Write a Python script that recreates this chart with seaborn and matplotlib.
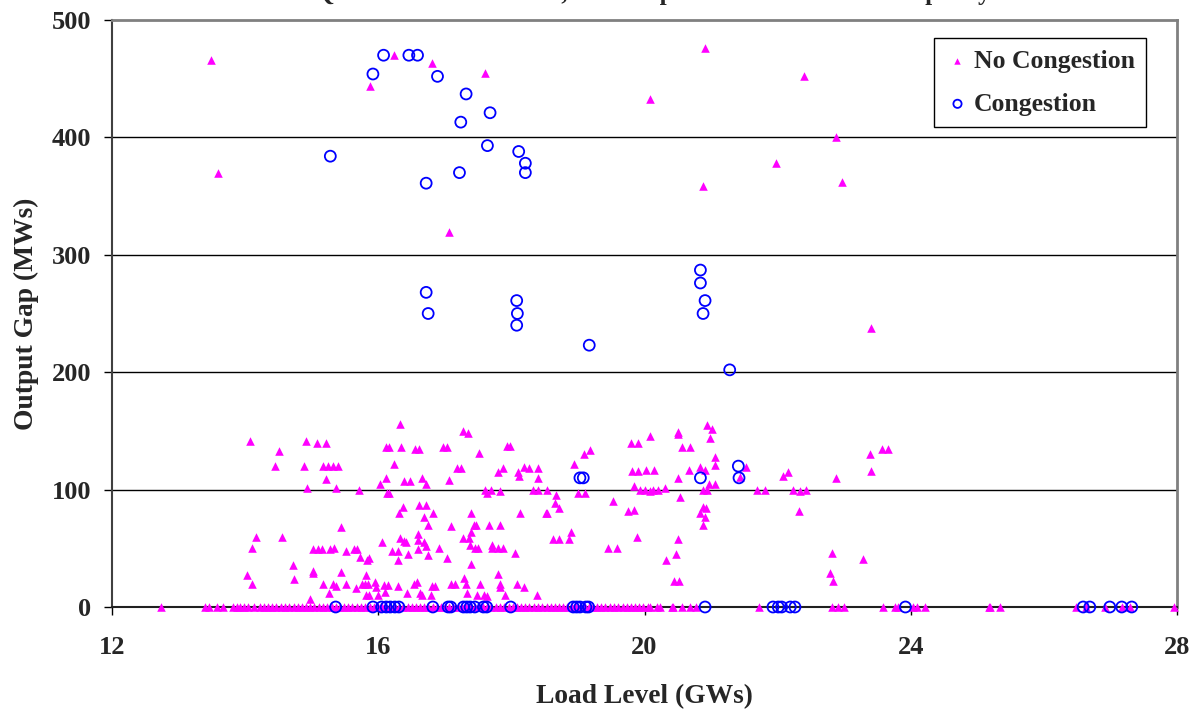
import matplotlib
matplotlib.use("Agg")
import matplotlib.pyplot as plt
import seaborn as sns

# ---------------- data ----------------
title_text = "Quota Withheld Levels, With Top Level vs. Total Max Capacity"
x_label = "Load Level (GWs)"
y_label = "Output Gap (MWs)"
x_ticks = [12, 16, 20, 24, 28]
y_ticks = [0, 100, 200, 300, 400, 500]
series_names = ["No Congestion", "Congestion"]

# No Congestion (triangles) - points above zero
nc_load = [13.48, 13.59, 15.87, 16.23, 16.81, 17.61, 17.07, 20.91, 20.09, 22.40, 22.87, 21.98, 20.88, 22.97, 23.40,
           14.08, 14.51, 14.45, 14.92, 15.08, 15.21, 14.89, 15.17, 15.25, 15.32, 15.40, 15.21, 14.93, 15.36, 15.71,
           15.44, 14.16, 14.55, 14.10, 15.02, 15.09, 15.16, 15.28, 15.33, 15.52, 15.64, 15.68, 15.72, 15.86, 15.83,
           14.72, 15.02, 15.02, 15.44, 14.03, 14.10, 14.73, 15.17, 15.32, 15.36, 15.52, 15.66, 15.75, 15.80, 15.84,
           15.82, 15.95, 15.97, 15.26, 14.98, 15.82, 15.86, 16.00,
           16.32, 17.28, 17.35, 16.12, 16.16, 16.34, 16.55, 16.61, 16.98, 17.03, 17.52, 17.93, 17.98, 16.23, 16.12,
           16.03, 16.39, 16.47, 16.66, 16.71, 17.07, 17.19, 17.25, 17.80, 17.88, 18.10, 18.12, 18.19, 18.27, 18.40,
           18.40, 16.13, 16.16, 17.60, 17.69, 17.64, 17.83, 18.33, 18.40, 18.54, 18.67, 18.66, 18.72, 18.94, 19.09,
           19.18, 19.00, 19.10, 19.79, 19.90, 19.81, 19.90, 20.02, 19.84, 19.93, 20.01, 20.08, 19.53, 19.75, 19.84,
           19.89, 18.13, 18.52, 18.54, 17.40, 16.37, 16.31, 16.61, 16.72, 16.68, 16.83, 16.74, 17.09, 17.44, 17.47,
           17.66, 17.83, 17.40, 17.27, 17.37, 17.38, 17.45, 17.50, 17.71, 17.71, 17.80, 17.88, 18.05, 18.63, 18.71,
           18.86, 18.90, 19.45, 19.59, 16.05, 16.20, 16.30, 16.33, 16.38, 16.42, 16.44, 16.29, 16.59, 16.59, 16.59,
           16.68, 16.71, 16.75, 16.92, 17.03, 17.40, 17.80, 16.08, 16.14, 16.10, 16.30, 16.43, 16.53, 16.58, 16.63,
           16.65, 16.80, 16.86, 16.79, 17.10, 17.15, 17.29, 17.32, 17.34, 17.53, 17.49, 17.59, 17.64, 17.83, 17.83,
           17.90, 18.09, 18.19, 18.39,
           20.08, 20.50, 20.51, 20.94, 21.02, 20.99, 20.57, 20.68, 20.15, 20.50, 20.67, 20.84, 20.91, 21.06, 21.06,
           20.97, 21.06, 21.53, 21.43, 20.13, 20.21, 20.31, 20.53, 20.88, 20.94, 20.88, 20.92, 20.83, 20.91, 20.88,
           21.69, 21.81, 22.08, 22.15, 22.23, 22.34, 22.42, 22.32, 22.88, 23.39, 23.40, 23.57, 23.66, 20.50, 20.48,
           20.32, 20.44, 20.52, 22.82, 22.79, 22.83, 23.29]
nc_gap = [466, 370, 444, 470, 463, 455, 319, 476, 433, 452, 400, 378, 359, 362, 238,
          141, 133, 120, 141, 140, 140, 120, 120, 120, 120, 120, 109, 101, 101, 100,
          68, 60, 60, 50, 49, 49, 49, 49, 50, 48, 49, 49, 43, 42, 40,
          36, 31, 29, 30, 27, 20, 24, 20, 20, 18, 20, 16, 20, 20, 20,
          27, 21, 17, 12, 7, 10, 10, 10,
          156, 150, 148, 136, 136, 136, 135, 135, 136, 136, 131, 137, 137, 122, 110,
          105, 107, 107, 110, 105, 108, 118, 118, 115, 118, 115, 112, 119, 118, 118,
          110, 97, 97, 100, 100, 97, 99, 100, 100, 100, 95, 89, 84, 122, 130,
          134, 97, 97, 140, 140, 116, 116, 117, 103, 100, 100, 99, 90, 82, 83,
          60, 80, 80, 80, 80, 85, 80, 87, 87, 77, 80, 70, 69, 70, 70,
          70, 70, 64, 59, 59, 53, 50, 50, 53, 50, 50, 50, 46, 58, 58,
          58, 64, 50, 50, 55, 48, 48, 59, 56, 55, 45, 40, 62, 57, 49,
          55, 52, 44, 50, 42, 37, 28, 19, 19, 13, 18, 12, 20, 21, 12,
          10, 18, 18, 10, 20, 20, 25, 20, 12, 20, 10, 10, 9, 20, 17,
          10, 20, 17, 10,
          146, 149, 147, 155, 152, 144, 136, 136, 117, 110, 117, 119, 117, 128, 121,
          105, 105, 119, 111, 100, 100, 101, 94, 100, 100, 85, 84, 80, 77, 70,
          100, 100, 112, 115, 100, 99, 100, 82, 110, 130, 116, 135, 135, 58, 45,
          40, 22, 22, 46, 29, 22, 41]

# No Congestion (triangles) - points sitting on zero
nc_zero_load = [12.74, 13.40, 13.45, 13.58, 13.67, 13.82, 13.88, 13.93, 13.98, 14.04, 14.13,
                14.22, 14.28, 14.35, 14.41, 14.47, 14.54, 14.60, 14.66, 14.73, 14.79, 14.85, 14.92, 14.98,
                15.04, 15.11, 15.17, 15.23, 15.30, 15.36, 15.42, 15.49, 15.55, 15.61, 15.68, 15.74, 15.80,
                15.87, 15.93, 15.99, 16.06, 16.12, 16.18, 16.25, 16.31, 16.37, 16.44, 16.50, 16.56, 16.63,
                16.69, 16.75, 16.82, 16.88, 16.94, 17.01, 17.07, 17.13, 17.20, 17.26, 17.32, 17.39, 17.45,
                17.51, 17.58, 17.64, 17.70, 17.77, 17.83, 17.89, 17.96, 18.02, 18.08, 18.15, 18.21, 18.27,
                18.34, 18.40, 18.46, 18.53, 18.59, 18.65, 18.72, 18.78, 18.84, 18.91, 18.97, 19.03, 19.10,
                19.16, 19.22, 19.29, 19.35, 19.41, 19.48, 19.54, 19.60, 19.67, 19.73, 19.79, 19.86, 19.92,
                19.98, 20.05, 20.08,
                20.19, 20.23, 20.41, 20.43, 20.57, 20.69, 20.78, 21.72, 22.81, 22.91, 22.99, 23.59, 23.76,
                23.81, 24.04, 24.09, 24.22, 25.17, 25.19, 25.34, 26.49, 26.64, 26.92, 27.17, 27.29, 27.95]
nc_zero_gap = [0] * len(nc_zero_load)

# Congestion (open circles)
c_load = [16.08, 15.92, 16.46, 16.59, 16.89, 17.32, 17.68, 17.24, 17.64, 15.28, 17.22, 16.72, 16.72, 16.75,
          18.11, 18.21, 18.21, 18.08, 18.09, 18.08, 19.17, 20.84, 20.84, 20.91, 20.88, 21.28,
          19.03, 19.08, 20.84, 21.41, 21.42,
          15.36, 15.92, 16.05, 16.12, 16.18, 16.25, 16.31, 16.82, 17.05, 17.09, 17.28, 17.33, 17.38,
          17.45, 17.58, 17.63, 17.99, 18.93, 18.98, 19.03, 19.12, 19.16, 20.91, 21.93, 22.01, 22.06,
          22.19, 22.26, 23.92, 26.59, 26.69, 26.99, 27.17, 27.32]
c_gap = [470, 454, 470, 470, 452, 437, 421, 413, 393, 384, 370, 361, 268, 250,
         388, 378, 370, 261, 250, 240, 223, 287, 276, 261, 250, 202,
         110, 110, 110, 120, 110,
         0, 0, 0, 0, 0, 0, 0, 0, 0, 0, 0, 0, 0,
         0, 0, 0, 0, 0, 0, 0, 0, 0, 0, 0, 0, 0,
         0, 0, 0, 0, 0, 0, 0, 0]

# ---------------- figure ----------------
sns.set_theme(style="white")
plt.rcParams['font.family'] = ['Liberation Serif', 'DejaVu Serif']
plt.rcParams['font.weight'] = 'bold'

W, H = 1198, 709
fig = plt.figure(figsize=(W / 100, H / 100), dpi=100)
ax = fig.add_axes([112 / W, (H - 607) / H, 1065 / W, 587 / H])

sns.scatterplot(x=nc_load + nc_zero_load, y=nc_gap + nc_zero_gap, ax=ax,
                marker='^', color='#FF00FF', s=38, linewidth=0, clip_on=False,
                label=series_names[0], zorder=3)
sns.scatterplot(x=c_load, y=c_gap, ax=ax,
                marker='o', facecolor='none', edgecolor='#0000FF', s=62, linewidth=1.3,
                clip_on=False, label=series_names[1], zorder=4)

ax.set_xlim(12, 28)
ax.set_ylim(0, 500)
ax.set_xticks(x_ticks)
ax.set_yticks(y_ticks)
ax.set_xticklabels([str(t) for t in x_ticks], fontsize=19, fontweight='bold')
ax.set_yticklabels([str(t) for t in y_ticks], fontsize=19, fontweight='bold')
ax.tick_params(axis='x', direction='out', length=6, width=1, pad=15, color='black', bottom=True)
ax.tick_params(axis='y', direction='out', length=6, width=1, pad=9, color='black', left=True)

ax.grid(False)
for yv in y_ticks[1:-1]:
    ax.axhline(yv, color='black', lw=1, zorder=1)

ax.spines['top'].set_color('#808080')
ax.spines['right'].set_color('#808080')
ax.spines['top'].set_linewidth(2)
ax.spines['right'].set_linewidth(2)
ax.spines['left'].set_color('#404040')
ax.spines['left'].set_linewidth(1.5)
ax.spines['bottom'].set_color('#202020')
ax.spines['bottom'].set_linewidth(1.5)

ax.set_xlabel(x_label, fontsize=19.8, fontweight='bold', labelpad=18)
ax.set_ylabel(y_label, fontsize=19.8, fontweight='bold', labelpad=9)

leg = ax.legend(loc='upper right', bbox_to_anchor=(0.971, 0.969), frameon=True, fancybox=False,
                framealpha=1, edgecolor='black', prop={'weight': 'bold', 'size': 18.5},
                handletextpad=0.15, labelspacing=0.77, borderpad=0.45, handlelength=0.95,
                markerscale=0.75, borderaxespad=0)
leg.get_frame().set_linewidth(1)

fig.text(0.545, 0.9995, title_text, ha='center', va='baseline', fontsize=18, fontweight='bold')

fig.savefig('out.png', dpi=100, facecolor='white')
